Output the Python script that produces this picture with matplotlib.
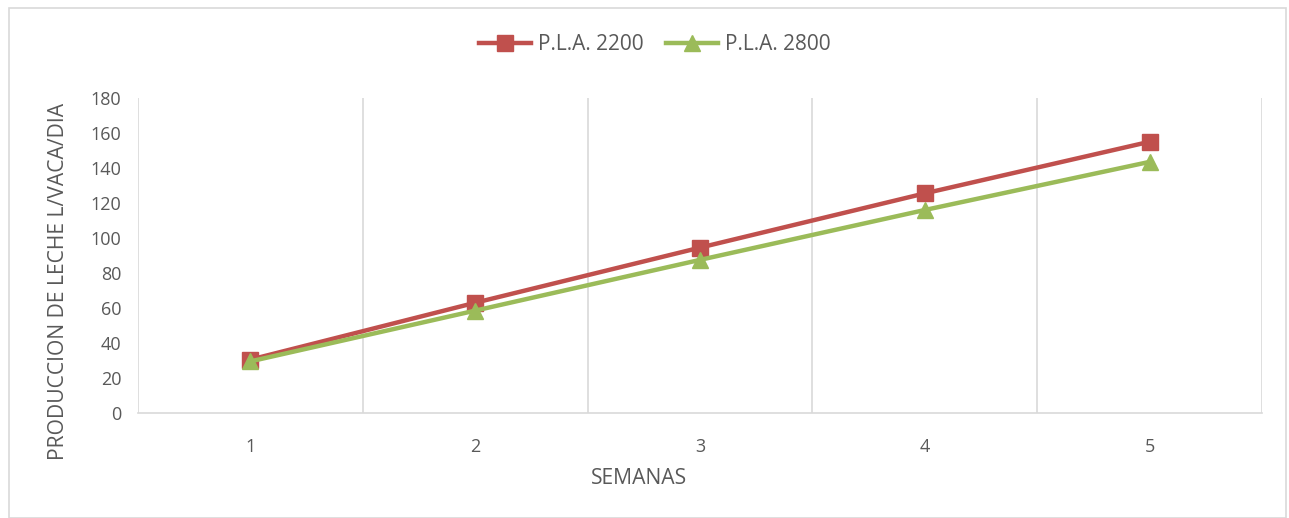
import matplotlib.pyplot as plt
from matplotlib.patches import Rectangle

semanas = [1, 2, 3, 4, 5]
pla_2200 = [30.5, 63, 94.5, 125.5, 155]
pla_2800 = [29.5, 58.5, 87.5, 116, 143.5]
y_ticks = [0, 20, 40, 60, 80, 100, 120, 140, 160, 180]

plt.rcParams['font.family'] = ['Open Sans', 'DejaVu Sans']
gray = '#595959'
grid = '#d9d9d9'

fig = plt.figure(figsize=(12.89, 5.18), dpi=100)
ax = fig.add_axes([138 / 1289, 1 - 413 / 518, (1262 - 138) / 1289, (413 - 98) / 518])

# chart border
fig.patches.append(Rectangle((9 / 1289, 0), 1 - 9 / 1289 - 0.002, 1 - 8 / 518,
                             transform=fig.transFigure, fill=False,
                             edgecolor=grid, linewidth=1.2))

ax.plot(semanas, pla_2200, color='#C0504D', linewidth=3.2, marker='s',
        markersize=11, label='P.L.A. 2200', zorder=3)
ax.plot(semanas, pla_2800, color='#9BBB59', linewidth=3.2, marker='^',
        markersize=12, label='P.L.A. 2800', zorder=4)

ax.set_xlim(0.5, 5.5)
ax.set_ylim(0, 180)
ax.set_xticks(semanas)
ax.set_yticks(y_ticks)
for xv in [0.5, 1.5, 2.5, 3.5, 4.5, 5.5]:
    ax.axvline(xv, color=grid, linewidth=1.2, zorder=1)

for s in ['top', 'left', 'right']:
    ax.spines[s].set_visible(False)
ax.spines['bottom'].set_color(grid)
ax.spines['bottom'].set_linewidth(1.2)
ax.tick_params(length=0, colors=gray, labelsize=13)
ax.tick_params(axis='x', pad=18)
ax.tick_params(axis='y', pad=12)

ax.set_xlabel('SEMANAS', color=gray, fontsize=15.2, va='center')
ax.set_ylabel('PRODUCCION DE LECHE L/VACA/DIA', color=gray, fontsize=15.2, va='center')
# label positions (Excel puts them slightly off-centre)
ax.xaxis.set_label_coords((639 - 138) / (1262 - 138), -(478 - 413) / (413 - 98))
ax.yaxis.set_label_coords(-(138 - 59) / (1262 - 138), (413 - 281) / (413 - 98))

fig.legend(loc='center', bbox_to_anchor=(0.508, 1 - 45 / 518), ncol=2, frameon=False,
           fontsize=15, labelcolor=gray, handlelength=2.5, columnspacing=1.1,
           handletextpad=0.3)

fig.savefig('out.png', dpi=100)
